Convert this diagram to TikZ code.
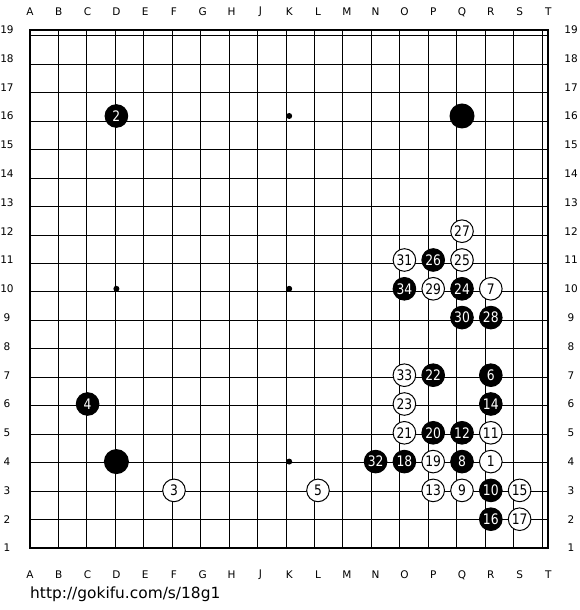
\documentclass[tikz,border=0pt]{standalone}
\usepackage{fontspec}
\usepackage{tikz}
\setmainfont{DejaVu Sans}
\newfontfamily\stonefont{DejaVu Sans}[FakeStretch=0.85]

\begin{document}
\begin{tikzpicture}
[
  x=28.8pt, y=28.8pt,
  coordlabel/.style={font=\fontsize{10.5}{10.5}\selectfont, inner sep=0},
  stone/.style={circle, draw, line width=1pt, minimum size=22.6pt, inner sep=0,
    font=\fontsize{14.5}{14.5}\stonefont},
  whitestone/.style={stone, fill=white},
  blackstone/.style={stone, fill=black, text=white},
  bigstone/.style={circle, fill=black, minimum size=25pt, inner sep=0}
]

\useasboundingbox (-30pt,-62pt) rectangle (550pt,548pt);
\fill[white] (-30pt,-62pt) rectangle (550pt,548pt);

% board
\draw[line width=1pt] (0,0) grid (18,18);
\draw[line width=2pt] (0,0) rectangle (18,18);

\foreach \l [count=\i from 0] in {A,B,C,D,E,F,G,H,J,K,L,M,N,O,P,Q,R,S,T}
{
  \node (top\l) at (\i,18.61) [coordlabel] {\l};
  \node (bot\l) at (\i,-0.94) [coordlabel] {\l};
}
\foreach \r in {1,...,19}
{
  \node (left\r) at (-0.8,\r-1) [coordlabel] {\r};
  \node (right\r) at (18.785,\r-1) [coordlabel] {\r};
}

% hoshi
\foreach \x in {3,9,15}
  \foreach \y in {3,9,15}
    \fill (\x,\y) circle (3pt);

% stones
\node (q16) at (15,15) [bigstone] {};
\node (d4) at (3,3) [bigstone] {};

\node (m1) at (16,3) [whitestone] {1};
\node (m2) at (3,15) [blackstone] {2};
\node (m3) at (5,2) [whitestone] {3};
\node (m4) at (2,5) [blackstone] {4};
\node (m5) at (10,2) [whitestone] {5};
\node (m6) at (16,6) [blackstone] {6};
\node (m7) at (16,9) [whitestone] {7};
\node (m8) at (15,3) [blackstone] {8};
\node (m9) at (15,2) [whitestone] {9};
\node (m10) at (16,2) [blackstone] {10};
\node (m11) at (16,4) [whitestone] {11};
\node (m12) at (15,4) [blackstone] {12};
\node (m13) at (14,2) [whitestone] {13};
\node (m14) at (16,5) [blackstone] {14};
\node (m15) at (17,2) [whitestone] {15};
\node (m16) at (16,1) [blackstone] {16};
\node (m17) at (17,1) [whitestone] {17};
\node (m18) at (13,3) [blackstone] {18};
\node (m19) at (14,3) [whitestone] {19};
\node (m20) at (14,4) [blackstone] {20};
\node (m21) at (13,4) [whitestone] {21};
\node (m22) at (14,6) [blackstone] {22};
\node (m23) at (13,5) [whitestone] {23};
\node (m24) at (15,9) [blackstone] {24};
\node (m25) at (15,10) [whitestone] {25};
\node (m26) at (14,10) [blackstone] {26};
\node (m27) at (15,11) [whitestone] {27};
\node (m28) at (16,8) [blackstone] {28};
\node (m29) at (14,9) [whitestone] {29};
\node (m30) at (15,8) [blackstone] {30};
\node (m31) at (13,10) [whitestone] {31};
\node (m32) at (12,3) [blackstone] {32};
\node (m33) at (13,6) [whitestone] {33};
\node (m34) at (13,9) [blackstone] {34};

\node (url) at (0,-1.6) [anchor=west, inner sep=0, font=\fontsize{15.4}{16}\selectfont] {http://gokifu.com/s/18g1};

\end{tikzpicture}
\end{document}
